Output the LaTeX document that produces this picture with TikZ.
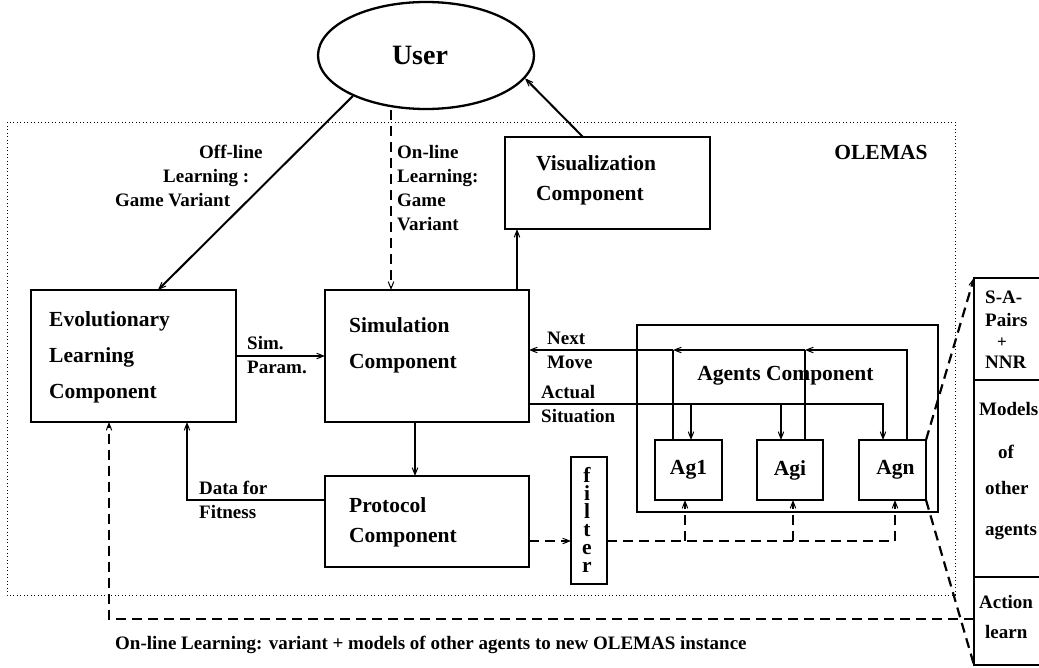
\documentclass[tikz,border=0pt]{standalone}
\usepackage{fontspec}
\setmainfont{Liberation Serif}
\usetikzlibrary{arrows.meta,shapes.geometric}

\tikzset{
  boxst/.style={draw, line width=2.3pt, inner sep=0pt, outer sep=0pt},
  bigtext/.style={font=\fontsize{21.5}{24}\selectfont\bfseries, inner sep=0pt},
  lbltext/.style={font=\fontsize{19}{22}\selectfont\bfseries, inner sep=0pt},
  conn/.style={line width=2pt},
  tip/.style={-{Straight Barb[length=7pt,width=5.5pt,line width=1pt]}},
  dashline/.style={line width=2.2pt, dash pattern=on 10pt off 6pt},
  frame/.style={line width=0.9pt, dash pattern=on 0.9pt off 2.6pt},
}

\begin{document}
\begin{tikzpicture}[x=1pt,y=-1pt]
\path[use as bounding box, clip] (0,0) rectangle (1039,667);

% system boundary
\draw[frame] (7,122) rectangle (955,595);
\node[bigtext, anchor=base] (olemas) at (881,159) {OLEMAS};

% user
\node[ellipse, draw, line width=2.3pt, minimum width=216pt, minimum height=107pt, inner sep=0pt] (user) at (426,55.5) {};
\node[font=\fontsize{28}{30}\selectfont\bfseries, inner sep=0pt, anchor=base] (usertxt) at (420,64) {User};

% component boxes
\node[boxst, minimum width=205pt, minimum height=132pt] (evo) at (133.5,356) {};
\node[boxst, minimum width=204pt, minimum height=132pt] (sim) at (427,356) {};
\node[boxst, minimum width=204pt, minimum height=91pt] (proto) at (427,521.5) {};
\node[boxst, minimum width=205pt, minimum height=92pt] (vis) at (607.5,183) {};
\node[boxst, minimum width=301pt, minimum height=187pt] (agents) at (787.5,418.5) {};
\node[boxst, bigtext, minimum width=67pt, minimum height=60pt] (ag1) at (688.5,470) {Ag1};
\node[boxst, bigtext, minimum width=66pt, minimum height=60pt] (agi) at (790,470) {Agi};
\node[boxst, bigtext, minimum width=67pt, minimum height=60pt] (agn) at (892.5,470) {\hspace*{6pt}Agn};
\node[boxst, minimum width=36pt, minimum height=127pt] (filt) at (589,520.5) {};
\node[boxst, minimum width=76pt, minimum height=387pt] (rb) at (1012,471.5) {};

% box texts
\node[bigtext, anchor=base west] (evo1) at (49,326) {Evolutionary};
\node[bigtext, anchor=base west] (evo2) at (49,362) {Learning};
\node[bigtext, anchor=base west] (evo3) at (49,398) {Component};
\node[bigtext, anchor=base west] (sim1) at (349,332) {Simulation};
\node[bigtext, anchor=base west] (sim2) at (349,368) {Component};
\node[bigtext, anchor=base west] (pro1) at (349,512) {Protocol};
\node[bigtext, anchor=base west] (pro2) at (349,542) {Component};
\node[bigtext, anchor=base west] (vis1) at (536,170) {Visualization};
\node[bigtext, anchor=base west] (vis2) at (536,200) {Component};
\node[bigtext, anchor=base] (agtxt) at (785.5,380) {Agents Component};
\node[font=\fontsize{21.5}{18}\selectfont\bfseries, inner sep=0pt, align=center, anchor=north] (filttxt) at (587,467) {f\\i\\l\\t\\e\\r};

% right-hand detail box
\coordinate (yD1) at (0,380);
\coordinate (yD2) at (0,577);
\draw[line width=2.3pt] (rb.west |- yD1) -- (rb.east |- yD1);
\draw[line width=2.3pt] (rb.west |- yD2) -- (rb.east |- yD2);
\node[lbltext, anchor=base west] (r1) at (985,303) {S-A-};
\node[lbltext, anchor=base west] (r2) at (985,326) {Pairs};
\node[font=\fontsize{17}{20}\selectfont\bfseries, inner sep=0pt, anchor=base] (r3) at (1002,347) {+};
\node[lbltext, anchor=base west] (r4) at (985,368) {NNR};
\node[lbltext, anchor=base west] (r5) at (979,415) {Models};
\node[lbltext, anchor=base] (r6) at (1006,458) {of};
\node[lbltext, anchor=base west] (r7) at (985,494) {other};
\node[lbltext, anchor=base west] (r8) at (985,535) {agents};
\node[lbltext, anchor=base west] (r9) at (979,608) {Action};
\node[lbltext, anchor=base west] (r10) at (985,638) {learn};

% connector labels
\node[lbltext, anchor=base west] (off1) at (199,158) {Off-line};
\node[lbltext, anchor=base west] (off2) at (163,182) {Learning :};
\node[lbltext, anchor=base west] (off3) at (115,206) {Game Variant};
\node[lbltext, anchor=base west] (on1) at (397,158) {On-line};
\node[lbltext, anchor=base west] (on2) at (397,182) {Learning:};
\node[lbltext, anchor=base west] (on3) at (397,206) {Game};
\node[lbltext, anchor=base west] (on4) at (397,230) {Variant};
\node[lbltext, anchor=base west] (par1) at (247,349) {Sim.};
\node[lbltext, anchor=base west] (par2) at (247,373) {Param.};
\node[lbltext, anchor=base west] (fit1) at (199,494) {Data for};
\node[lbltext, anchor=base west] (fit2) at (199,518) {Fitness};
\node[lbltext, anchor=base west] (nm1) at (547,344) {Next};
\node[lbltext, anchor=base west] (nm2) at (547,368) {Move};
\node[lbltext, anchor=base west] (as1) at (541,398) {Actual};
\node[lbltext, anchor=base west] (as2) at (541,422) {Situation};
\node[lbltext, anchor=base west] (bot) at (115,649) {On-line Learning: variant + models of other agents to new OLEMAS instance};

% routing columns and rows
\coordinate (xOff) at (158,0);
\coordinate (xOn) at (391,0);
\coordinate (xVis) at (517,0);
\coordinate (xVs) at (583,0);
\coordinate (xProt) at (415,0);
\coordinate (yPar) at (0,356);
\coordinate (xFit) at (187,0);
\coordinate (yFit) at (0,500);
\coordinate (xBot) at (109,0);
\coordinate (yBot) at (0,619);
\coordinate (yNext) at (0,350);
\coordinate (ySit) at (0,404);
\coordinate (xN1) at (673,0);
\coordinate (xN2) at (805,0);
\coordinate (xN3) at (907,0);
\coordinate (xS1) at (691,0);
\coordinate (xS2) at (781,0);
\coordinate (xS3) at (883,0);
\coordinate (yFil) at (0,541);
\coordinate (xF1) at (685,0);
\coordinate (xF2) at (793,0);
\coordinate (xF3) at (895,0);

% user interaction
\draw[conn,tip] (user.209) -- (evo.north -| xOff);
\draw[dashline,tip] (user.south -| xOn) -- (sim.north -| xOn);
\draw[conn,tip] (vis.north -| xVs) -- (user.347);
\draw[conn,tip] (sim.north -| xVis) -- (vis.south -| xVis);

% learning loop
\draw[conn,tip] (evo.east |- yPar) -- (sim.west |- yPar);
\draw[conn,tip] (sim.south -| xProt) -- (proto.north -| xProt);
\draw[conn,tip] (proto.west |- yFit) -| (evo.south -| xFit);
\draw[dashline,tip] (rb.west |- yBot) -| (evo.south -| xBot);

% next move from the agents
\draw[conn,tip] (agn.north -| xN3) |- (yNext -| xN2);
\draw[conn] (agi.north -| xN2) -- (yNext -| xN2);
\draw[conn,tip] (yNext -| xN2) -- (yNext -| xN1);
\draw[conn] (ag1.north -| xN1) -- (yNext -| xN1);
\draw[conn,tip] (yNext -| xN1) -- (sim.east |- yNext);

% actual situation to the agents
\draw[conn,tip] (sim.east |- ySit) -| (agn.north -| xS3);
\draw[conn,tip] (ySit -| xS1) -- (ag1.north -| xS1);
\draw[conn,tip] (ySit -| xS2) -- (agi.north -| xS2);

% protocol through the filter
\draw[dashline,tip] (proto.east |- yFil) -- (filt.west |- yFil);
\draw[dashline] (filt.east |- yFil) -- (yFil -| xF3);
\draw[dashline,tip] (yFil -| xF1) -- (ag1.south -| xF1);
\draw[dashline,tip] (yFil -| xF2) -- (agi.south -| xF2);
\draw[dashline,tip] (yFil -| xF3) -- (agn.south -| xF3);

% detail of one agent
\draw[dashline,tip] (agn.north east) -- (rb.north west);
\draw[dashline] (agn.south east) -- (rb.south west);
\end{tikzpicture}
\end{document}
